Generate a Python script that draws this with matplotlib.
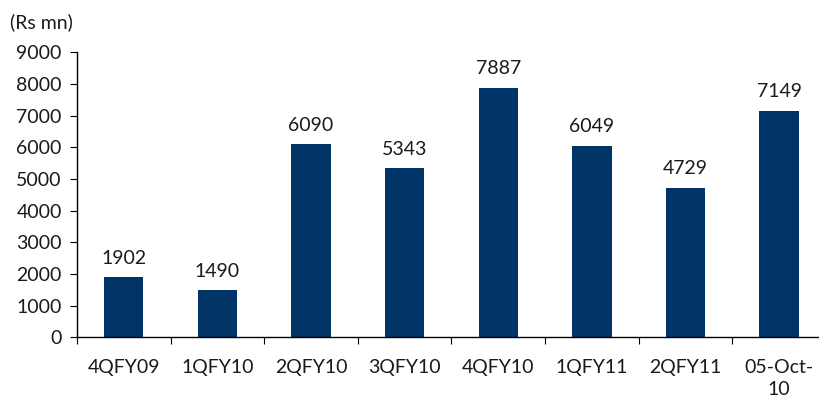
import matplotlib
matplotlib.use('Agg')
import numpy as np
from matplotlib import pyplot as plt

categories = ['4QFY09', '1QFY10', '2QFY10', '3QFY10', '4QFY10', '1QFY11', '2QFY11', '05-Oct-\n10']
values = [1902, 1490, 6090, 5343, 7887, 6049, 4729, 7149]
yticks = [0, 1000, 2000, 3000, 4000, 5000, 6000, 7000, 8000, 9000]

plt.rcParams['font.family'] = ['Lato', 'DejaVu Sans']

fig = plt.figure(figsize=(8.19, 4.01), dpi=100)
ax = fig.add_axes([0.094, 0.159, 0.9145, 0.7106])

x = np.arange(len(categories))
ax.bar(x, values, width=0.42, color='#003366')
for xi, v in zip(x, values):
    ax.text(xi, v + 330, str(v), ha='center', va='bottom', fontsize=14, color='#1a1a1a')

ax.set_xlim(-0.5, len(categories) - 0.5)
ax.set_ylim(0, 9000)
ax.set_yticks(yticks)
ax.set_yticklabels([str(t) for t in yticks], fontsize=14, color='#1a1a1a')

ax.set_xticks(np.arange(len(categories) + 1) - 0.5)
ax.set_xticklabels([])
ax.set_xticks(x, minor=True)
ax.set_xticklabels(categories, minor=True, fontsize=14, color='#1a1a1a', linespacing=1.3)
ax.tick_params(axis='x', which='minor', length=0, pad=16)
ax.tick_params(axis='x', which='major', length=5, direction='out')
ax.tick_params(axis='y', length=5, direction='out', pad=6)

for s in ['top', 'right']:
    ax.spines[s].set_visible(False)
for s in ['left', 'bottom']:
    ax.spines[s].set_linewidth(1.0)

fig.text(0.012, 0.945, '(Rs mn)', fontsize=14, color='#1a1a1a', ha='left', va='center')

fig.savefig('out.png', dpi=100)
